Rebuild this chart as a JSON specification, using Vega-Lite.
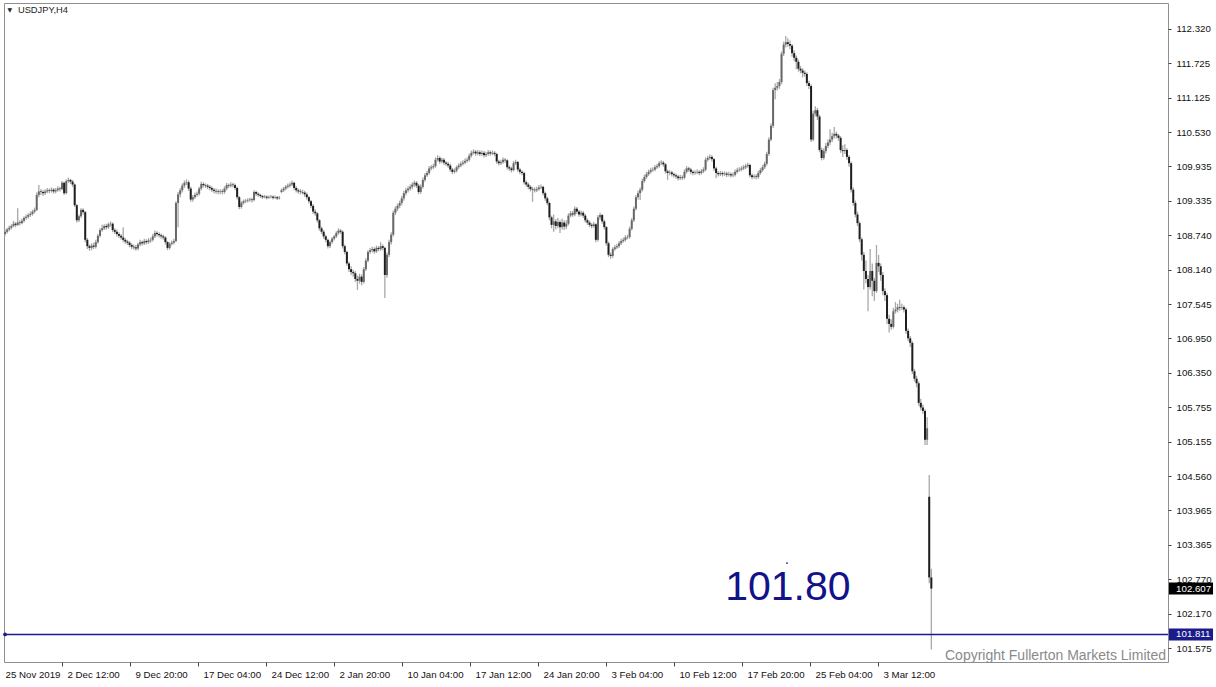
{
"$schema":"https://vega.github.io/schema/vega-lite/v6.json",
"width":1164,"height":659,
"autosize":{"type":"none"},
"padding":{"left":4,"top":3,"right":48,"bottom":25},
"background":"white",
"config":{"view":{"stroke":"#8f8f8f","strokeWidth":1},"font":"Liberation Sans"},
"datasets":{"one":[{}],"bars":[
{"i":0,"o":108.76,"h":108.84,"l":108.73,"c":108.80},
{"i":1,"o":108.80,"h":108.87,"l":108.77,"c":108.84},
{"i":2,"o":108.84,"h":108.91,"l":108.81,"c":108.87},
{"i":3,"o":108.87,"h":108.93,"l":108.84,"c":108.90},
{"i":4,"o":108.90,"h":108.99,"l":108.88,"c":108.94},
{"i":5,"o":108.94,"h":108.97,"l":108.88,"c":108.92},
{"i":6,"o":108.92,"h":109.21,"l":108.90,"c":108.96},
{"i":7,"o":108.96,"h":109.00,"l":108.91,"c":108.95},
{"i":8,"o":108.95,"h":109.03,"l":108.93,"c":108.99},
{"i":9,"o":108.99,"h":109.07,"l":108.96,"c":109.04},
{"i":10,"o":109.04,"h":109.10,"l":109.01,"c":109.06},
{"i":11,"o":109.06,"h":109.12,"l":109.03,"c":109.09},
{"i":12,"o":109.09,"h":109.15,"l":109.06,"c":109.11},
{"i":13,"o":109.11,"h":109.18,"l":109.08,"c":109.15},
{"i":14,"o":109.15,"h":109.22,"l":109.12,"c":109.18},
{"i":15,"o":109.18,"h":109.48,"l":109.16,"c":109.44},
{"i":16,"o":109.44,"h":109.61,"l":109.40,"c":109.50},
{"i":17,"o":109.50,"h":109.54,"l":109.44,"c":109.49},
{"i":18,"o":109.49,"h":109.53,"l":109.42,"c":109.47},
{"i":19,"o":109.47,"h":109.54,"l":109.44,"c":109.50},
{"i":20,"o":109.50,"h":109.56,"l":109.47,"c":109.52},
{"i":21,"o":109.52,"h":109.55,"l":109.47,"c":109.51},
{"i":22,"o":109.51,"h":109.57,"l":109.48,"c":109.53},
{"i":23,"o":109.53,"h":109.56,"l":109.46,"c":109.50},
{"i":24,"o":109.50,"h":109.56,"l":109.47,"c":109.52},
{"i":25,"o":109.52,"h":109.59,"l":109.50,"c":109.55},
{"i":26,"o":109.55,"h":109.58,"l":109.50,"c":109.54},
{"i":27,"o":109.54,"h":109.68,"l":109.52,"c":109.65},
{"i":28,"o":109.65,"h":109.67,"l":109.44,"c":109.47},
{"i":29,"o":109.47,"h":109.71,"l":109.45,"c":109.68},
{"i":30,"o":109.68,"h":109.74,"l":109.65,"c":109.70},
{"i":31,"o":109.70,"h":109.72,"l":109.63,"c":109.67},
{"i":32,"o":109.67,"h":109.70,"l":109.58,"c":109.62},
{"i":33,"o":109.62,"h":109.64,"l":109.23,"c":109.26},
{"i":34,"o":109.26,"h":109.28,"l":108.96,"c":109.00},
{"i":35,"o":109.00,"h":109.10,"l":108.97,"c":109.07},
{"i":36,"o":109.07,"h":109.21,"l":109.04,"c":109.18},
{"i":37,"o":109.18,"h":109.21,"l":109.10,"c":109.14},
{"i":38,"o":109.14,"h":109.16,"l":108.62,"c":108.66},
{"i":39,"o":108.66,"h":108.69,"l":108.50,"c":108.55},
{"i":40,"o":108.55,"h":108.58,"l":108.47,"c":108.52},
{"i":41,"o":108.52,"h":108.60,"l":108.48,"c":108.56},
{"i":42,"o":108.56,"h":108.61,"l":108.50,"c":108.54},
{"i":43,"o":108.54,"h":108.66,"l":108.51,"c":108.62},
{"i":44,"o":108.62,"h":108.76,"l":108.59,"c":108.73},
{"i":45,"o":108.73,"h":108.86,"l":108.70,"c":108.83},
{"i":46,"o":108.83,"h":108.92,"l":108.80,"c":108.86},
{"i":47,"o":108.86,"h":108.93,"l":108.83,"c":108.90},
{"i":48,"o":108.90,"h":108.94,"l":108.84,"c":108.88},
{"i":49,"o":108.88,"h":108.96,"l":108.85,"c":108.93},
{"i":50,"o":108.93,"h":108.98,"l":108.89,"c":108.94},
{"i":51,"o":108.94,"h":108.96,"l":108.79,"c":108.83},
{"i":52,"o":108.83,"h":108.86,"l":108.76,"c":108.80},
{"i":53,"o":108.80,"h":108.84,"l":108.72,"c":108.76},
{"i":54,"o":108.76,"h":108.79,"l":108.69,"c":108.73},
{"i":55,"o":108.73,"h":108.76,"l":108.66,"c":108.70},
{"i":56,"o":108.70,"h":108.88,"l":108.62,"c":108.66},
{"i":57,"o":108.66,"h":108.69,"l":108.59,"c":108.63},
{"i":58,"o":108.63,"h":108.66,"l":108.57,"c":108.61},
{"i":59,"o":108.61,"h":108.64,"l":108.53,"c":108.57},
{"i":60,"o":108.57,"h":108.60,"l":108.50,"c":108.54},
{"i":61,"o":108.54,"h":108.58,"l":108.49,"c":108.53},
{"i":62,"o":108.53,"h":108.57,"l":108.47,"c":108.51},
{"i":63,"o":108.51,"h":108.61,"l":108.48,"c":108.58},
{"i":64,"o":108.58,"h":108.66,"l":108.55,"c":108.62},
{"i":65,"o":108.62,"h":108.65,"l":108.56,"c":108.60},
{"i":66,"o":108.60,"h":108.68,"l":108.57,"c":108.64},
{"i":67,"o":108.64,"h":108.67,"l":108.58,"c":108.62},
{"i":68,"o":108.62,"h":108.69,"l":108.59,"c":108.65},
{"i":69,"o":108.65,"h":108.70,"l":108.61,"c":108.66},
{"i":70,"o":108.66,"h":108.76,"l":108.63,"c":108.72},
{"i":71,"o":108.72,"h":108.82,"l":108.69,"c":108.78},
{"i":72,"o":108.78,"h":108.81,"l":108.72,"c":108.76},
{"i":73,"o":108.76,"h":108.79,"l":108.70,"c":108.74},
{"i":74,"o":108.74,"h":108.77,"l":108.68,"c":108.72},
{"i":75,"o":108.72,"h":108.75,"l":108.66,"c":108.70},
{"i":76,"o":108.70,"h":108.72,"l":108.58,"c":108.62},
{"i":77,"o":108.62,"h":108.64,"l":108.48,"c":108.52},
{"i":78,"o":108.52,"h":108.62,"l":108.49,"c":108.59},
{"i":79,"o":108.59,"h":108.65,"l":108.56,"c":108.61},
{"i":80,"o":108.61,"h":108.68,"l":108.58,"c":108.64},
{"i":81,"o":108.64,"h":109.33,"l":108.62,"c":109.30},
{"i":82,"o":109.30,"h":109.49,"l":108.88,"c":109.45},
{"i":83,"o":109.45,"h":109.56,"l":109.40,"c":109.52},
{"i":84,"o":109.52,"h":109.64,"l":109.48,"c":109.60},
{"i":85,"o":109.60,"h":109.69,"l":109.56,"c":109.65},
{"i":86,"o":109.65,"h":109.71,"l":109.61,"c":109.66},
{"i":87,"o":109.66,"h":109.69,"l":109.51,"c":109.55},
{"i":88,"o":109.55,"h":109.58,"l":109.32,"c":109.36},
{"i":89,"o":109.36,"h":109.44,"l":109.32,"c":109.40},
{"i":90,"o":109.40,"h":109.48,"l":109.37,"c":109.44},
{"i":91,"o":109.44,"h":109.50,"l":109.41,"c":109.46},
{"i":92,"o":109.46,"h":109.58,"l":109.43,"c":109.55},
{"i":93,"o":109.55,"h":109.67,"l":109.52,"c":109.63},
{"i":94,"o":109.63,"h":109.66,"l":109.57,"c":109.61},
{"i":95,"o":109.61,"h":109.64,"l":109.56,"c":109.60},
{"i":96,"o":109.60,"h":109.63,"l":109.54,"c":109.58},
{"i":97,"o":109.58,"h":109.61,"l":109.52,"c":109.56},
{"i":98,"o":109.56,"h":109.59,"l":109.49,"c":109.53},
{"i":99,"o":109.53,"h":109.56,"l":109.47,"c":109.51},
{"i":100,"o":109.51,"h":109.55,"l":109.46,"c":109.50},
{"i":101,"o":109.50,"h":109.54,"l":109.45,"c":109.49},
{"i":102,"o":109.49,"h":109.54,"l":109.45,"c":109.50},
{"i":103,"o":109.50,"h":109.54,"l":109.45,"c":109.49},
{"i":104,"o":109.49,"h":109.59,"l":109.46,"c":109.55},
{"i":105,"o":109.55,"h":109.65,"l":109.52,"c":109.61},
{"i":106,"o":109.61,"h":109.64,"l":109.56,"c":109.60},
{"i":107,"o":109.60,"h":109.66,"l":109.57,"c":109.62},
{"i":108,"o":109.62,"h":109.65,"l":109.57,"c":109.61},
{"i":109,"o":109.61,"h":109.64,"l":109.52,"c":109.56},
{"i":110,"o":109.56,"h":109.58,"l":109.36,"c":109.40},
{"i":111,"o":109.40,"h":109.42,"l":109.19,"c":109.23},
{"i":112,"o":109.23,"h":109.33,"l":109.20,"c":109.30},
{"i":113,"o":109.30,"h":109.36,"l":109.27,"c":109.33},
{"i":114,"o":109.33,"h":109.37,"l":109.30,"c":109.34},
{"i":115,"o":109.34,"h":109.38,"l":109.31,"c":109.35},
{"i":116,"o":109.35,"h":109.39,"l":109.32,"c":109.36},
{"i":117,"o":109.36,"h":109.39,"l":109.31,"c":109.35},
{"i":118,"o":109.35,"h":109.52,"l":109.33,"c":109.49},
{"i":119,"o":109.49,"h":109.51,"l":109.42,"c":109.46},
{"i":120,"o":109.46,"h":109.48,"l":109.41,"c":109.44},
{"i":121,"o":109.44,"h":109.46,"l":109.39,"c":109.42},
{"i":122,"o":109.42,"h":109.44,"l":109.37,"c":109.40},
{"i":123,"o":109.40,"h":109.44,"l":109.38,"c":109.41},
{"i":124,"o":109.41,"h":109.43,"l":109.36,"c":109.39},
{"i":125,"o":109.39,"h":109.43,"l":109.37,"c":109.40},
{"i":126,"o":109.40,"h":109.44,"l":109.38,"c":109.41},
{"i":127,"o":109.41,"h":109.43,"l":109.36,"c":109.39},
{"i":128,"o":109.39,"h":109.43,"l":109.37,"c":109.40},
{"i":129,"o":109.40,"h":109.42,"l":109.35,"c":109.38},
{"i":130,"o":109.38,"h":109.42,"l":109.36,"c":109.39},
{"i":131,"o":109.49,"h":109.55,"l":109.47,"c":109.52},
{"i":132,"o":109.52,"h":109.58,"l":109.49,"c":109.55},
{"i":133,"o":109.55,"h":109.61,"l":109.52,"c":109.58},
{"i":134,"o":109.58,"h":109.64,"l":109.55,"c":109.60},
{"i":135,"o":109.60,"h":109.66,"l":109.57,"c":109.62},
{"i":136,"o":109.62,"h":109.69,"l":109.59,"c":109.65},
{"i":137,"o":109.65,"h":109.67,"l":109.52,"c":109.56},
{"i":138,"o":109.56,"h":109.59,"l":109.48,"c":109.52},
{"i":139,"o":109.52,"h":109.55,"l":109.46,"c":109.50},
{"i":140,"o":109.50,"h":109.54,"l":109.45,"c":109.49},
{"i":141,"o":109.49,"h":109.53,"l":109.45,"c":109.48},
{"i":142,"o":109.48,"h":109.51,"l":109.41,"c":109.45},
{"i":143,"o":109.45,"h":109.48,"l":109.36,"c":109.40},
{"i":144,"o":109.40,"h":109.42,"l":109.29,"c":109.33},
{"i":145,"o":109.33,"h":109.35,"l":109.21,"c":109.25},
{"i":146,"o":109.25,"h":109.28,"l":109.11,"c":109.15},
{"i":147,"o":109.15,"h":109.19,"l":109.08,"c":109.12},
{"i":148,"o":109.12,"h":109.14,"l":108.96,"c":109.00},
{"i":149,"o":109.00,"h":109.02,"l":108.82,"c":108.86},
{"i":150,"o":108.86,"h":108.89,"l":108.76,"c":108.80},
{"i":151,"o":108.80,"h":108.83,"l":108.68,"c":108.72},
{"i":152,"o":108.72,"h":108.75,"l":108.62,"c":108.66},
{"i":153,"o":108.66,"h":108.68,"l":108.51,"c":108.55},
{"i":154,"o":108.55,"h":108.65,"l":108.52,"c":108.62},
{"i":155,"o":108.62,"h":108.71,"l":108.59,"c":108.68},
{"i":156,"o":108.68,"h":108.75,"l":108.65,"c":108.72},
{"i":157,"o":108.72,"h":108.81,"l":108.69,"c":108.78},
{"i":158,"o":108.78,"h":108.86,"l":108.75,"c":108.82},
{"i":159,"o":108.82,"h":108.85,"l":108.76,"c":108.80},
{"i":160,"o":108.80,"h":108.82,"l":108.51,"c":108.55},
{"i":161,"o":108.55,"h":108.58,"l":108.41,"c":108.45},
{"i":162,"o":108.45,"h":108.47,"l":108.21,"c":108.25},
{"i":163,"o":108.25,"h":108.28,"l":108.10,"c":108.15},
{"i":164,"o":108.15,"h":108.20,"l":108.05,"c":108.10},
{"i":165,"o":108.10,"h":108.14,"l":108.02,"c":108.08},
{"i":166,"o":108.08,"h":108.12,"l":107.93,"c":107.98},
{"i":167,"o":107.98,"h":108.04,"l":107.79,"c":107.95},
{"i":168,"o":107.95,"h":108.07,"l":107.90,"c":108.02},
{"i":169,"o":108.02,"h":108.06,"l":107.87,"c":107.93},
{"i":170,"o":107.93,"h":108.19,"l":107.90,"c":108.15},
{"i":171,"o":108.15,"h":108.34,"l":108.12,"c":108.30},
{"i":172,"o":108.30,"h":108.48,"l":108.27,"c":108.45},
{"i":173,"o":108.45,"h":108.52,"l":108.42,"c":108.48},
{"i":174,"o":108.48,"h":108.54,"l":108.44,"c":108.50},
{"i":175,"o":108.50,"h":108.53,"l":108.42,"c":108.46},
{"i":176,"o":108.46,"h":108.56,"l":108.43,"c":108.52},
{"i":177,"o":108.52,"h":108.55,"l":108.46,"c":108.50},
{"i":178,"o":108.50,"h":108.62,"l":108.47,"c":108.55},
{"i":179,"o":108.55,"h":108.58,"l":108.48,"c":108.52},
{"i":180,"o":108.52,"h":108.54,"l":107.65,"c":108.05},
{"i":181,"o":108.05,"h":108.44,"l":108.00,"c":108.40},
{"i":182,"o":108.40,"h":108.66,"l":108.36,"c":108.62},
{"i":183,"o":108.62,"h":108.79,"l":108.58,"c":108.75},
{"i":184,"o":108.75,"h":109.17,"l":108.72,"c":109.13},
{"i":185,"o":109.13,"h":109.24,"l":109.09,"c":109.20},
{"i":186,"o":109.20,"h":109.29,"l":109.16,"c":109.25},
{"i":187,"o":109.25,"h":109.34,"l":109.21,"c":109.30},
{"i":188,"o":109.30,"h":109.42,"l":109.26,"c":109.38},
{"i":189,"o":109.38,"h":109.51,"l":109.34,"c":109.47},
{"i":190,"o":109.47,"h":109.56,"l":109.43,"c":109.52},
{"i":191,"o":109.52,"h":109.59,"l":109.48,"c":109.55},
{"i":192,"o":109.55,"h":109.62,"l":109.51,"c":109.58},
{"i":193,"o":109.58,"h":109.66,"l":109.54,"c":109.62},
{"i":194,"o":109.62,"h":109.69,"l":109.58,"c":109.65},
{"i":195,"o":109.65,"h":109.68,"l":109.56,"c":109.60},
{"i":196,"o":109.60,"h":109.63,"l":109.45,"c":109.49},
{"i":197,"o":109.49,"h":109.62,"l":109.46,"c":109.58},
{"i":198,"o":109.58,"h":109.74,"l":109.55,"c":109.70},
{"i":199,"o":109.70,"h":109.82,"l":109.67,"c":109.78},
{"i":200,"o":109.78,"h":109.86,"l":109.75,"c":109.82},
{"i":201,"o":109.82,"h":109.94,"l":109.79,"c":109.90},
{"i":202,"o":109.90,"h":109.96,"l":109.87,"c":109.92},
{"i":203,"o":109.92,"h":109.98,"l":109.89,"c":109.94},
{"i":204,"o":109.94,"h":110.09,"l":109.91,"c":110.05},
{"i":205,"o":110.05,"h":110.13,"l":110.02,"c":110.08},
{"i":206,"o":110.08,"h":110.11,"l":109.98,"c":110.02},
{"i":207,"o":110.02,"h":110.09,"l":109.99,"c":110.05},
{"i":208,"o":110.05,"h":110.08,"l":109.96,"c":110.00},
{"i":209,"o":110.00,"h":110.03,"l":109.94,"c":109.98},
{"i":210,"o":109.98,"h":110.01,"l":109.91,"c":109.95},
{"i":211,"o":109.95,"h":109.98,"l":109.84,"c":109.88},
{"i":212,"o":109.88,"h":109.91,"l":109.80,"c":109.84},
{"i":213,"o":109.84,"h":109.90,"l":109.81,"c":109.86},
{"i":214,"o":109.86,"h":109.95,"l":109.83,"c":109.92},
{"i":215,"o":109.92,"h":109.99,"l":109.89,"c":109.95},
{"i":216,"o":109.95,"h":110.02,"l":109.92,"c":109.98},
{"i":217,"o":109.98,"h":110.04,"l":109.95,"c":110.00},
{"i":218,"o":110.00,"h":110.07,"l":109.97,"c":110.03},
{"i":219,"o":110.03,"h":110.09,"l":110.00,"c":110.05},
{"i":220,"o":110.05,"h":110.16,"l":110.02,"c":110.12},
{"i":221,"o":110.12,"h":110.21,"l":110.09,"c":110.17},
{"i":222,"o":110.17,"h":110.23,"l":110.14,"c":110.19},
{"i":223,"o":110.19,"h":110.22,"l":110.12,"c":110.16},
{"i":224,"o":110.16,"h":110.22,"l":110.13,"c":110.18},
{"i":225,"o":110.18,"h":110.21,"l":110.11,"c":110.15},
{"i":226,"o":110.15,"h":110.21,"l":110.12,"c":110.17},
{"i":227,"o":110.17,"h":110.20,"l":110.09,"c":110.13},
{"i":228,"o":110.13,"h":110.19,"l":110.10,"c":110.15},
{"i":229,"o":110.15,"h":110.22,"l":110.12,"c":110.18},
{"i":230,"o":110.18,"h":110.21,"l":110.12,"c":110.16},
{"i":231,"o":110.16,"h":110.21,"l":110.13,"c":110.17},
{"i":232,"o":110.17,"h":110.20,"l":110.11,"c":110.15},
{"i":233,"o":110.15,"h":110.17,"l":109.98,"c":110.02},
{"i":234,"o":110.02,"h":110.05,"l":109.95,"c":109.99},
{"i":235,"o":109.99,"h":110.05,"l":109.96,"c":110.01},
{"i":236,"o":110.01,"h":110.09,"l":109.98,"c":110.05},
{"i":237,"o":110.05,"h":110.08,"l":110.00,"c":110.04},
{"i":238,"o":110.04,"h":110.06,"l":109.88,"c":109.92},
{"i":239,"o":109.92,"h":109.95,"l":109.86,"c":109.90},
{"i":240,"o":109.90,"h":109.93,"l":109.83,"c":109.87},
{"i":241,"o":109.87,"h":110.03,"l":109.85,"c":109.99},
{"i":242,"o":109.99,"h":110.05,"l":109.96,"c":110.01},
{"i":243,"o":110.01,"h":110.03,"l":109.84,"c":109.88},
{"i":244,"o":109.88,"h":109.91,"l":109.80,"c":109.84},
{"i":245,"o":109.84,"h":109.87,"l":109.78,"c":109.82},
{"i":246,"o":109.82,"h":109.84,"l":109.62,"c":109.66},
{"i":247,"o":109.66,"h":109.69,"l":109.58,"c":109.62},
{"i":248,"o":109.62,"h":109.65,"l":109.54,"c":109.58},
{"i":249,"o":109.58,"h":109.61,"l":109.50,"c":109.54},
{"i":250,"o":109.54,"h":109.58,"l":109.32,"c":109.53},
{"i":251,"o":109.53,"h":109.57,"l":109.48,"c":109.52},
{"i":252,"o":109.52,"h":109.58,"l":109.49,"c":109.54},
{"i":253,"o":109.54,"h":109.61,"l":109.51,"c":109.57},
{"i":254,"o":109.57,"h":109.62,"l":109.54,"c":109.58},
{"i":255,"o":109.58,"h":109.60,"l":109.43,"c":109.47},
{"i":256,"o":109.47,"h":109.50,"l":109.34,"c":109.38},
{"i":257,"o":109.38,"h":109.41,"l":109.26,"c":109.30},
{"i":258,"o":109.30,"h":109.32,"l":109.00,"c":109.05},
{"i":259,"o":109.05,"h":109.08,"l":108.86,"c":108.92},
{"i":260,"o":108.92,"h":109.10,"l":108.80,"c":108.98},
{"i":261,"o":108.98,"h":109.02,"l":108.84,"c":108.90},
{"i":262,"o":108.90,"h":109.04,"l":108.86,"c":108.97},
{"i":263,"o":108.97,"h":109.00,"l":108.78,"c":108.88},
{"i":264,"o":108.88,"h":109.03,"l":108.84,"c":108.96},
{"i":265,"o":108.96,"h":109.00,"l":108.83,"c":108.89},
{"i":266,"o":108.89,"h":109.00,"l":108.85,"c":108.94},
{"i":267,"o":108.94,"h":109.12,"l":108.91,"c":109.08},
{"i":268,"o":109.08,"h":109.16,"l":109.05,"c":109.12},
{"i":269,"o":109.12,"h":109.16,"l":109.06,"c":109.10},
{"i":270,"o":109.10,"h":109.24,"l":109.07,"c":109.20},
{"i":271,"o":109.20,"h":109.23,"l":109.11,"c":109.15},
{"i":272,"o":109.15,"h":109.18,"l":109.06,"c":109.10},
{"i":273,"o":109.10,"h":109.17,"l":109.07,"c":109.13},
{"i":274,"o":109.13,"h":109.16,"l":109.04,"c":109.08},
{"i":275,"o":109.08,"h":109.11,"l":108.96,"c":109.00},
{"i":276,"o":109.00,"h":109.03,"l":108.92,"c":108.96},
{"i":277,"o":108.96,"h":108.99,"l":108.88,"c":108.92},
{"i":278,"o":108.92,"h":108.95,"l":108.86,"c":108.90},
{"i":279,"o":108.90,"h":108.97,"l":108.87,"c":108.93},
{"i":280,"o":108.93,"h":108.95,"l":108.62,"c":108.66},
{"i":281,"o":108.66,"h":109.09,"l":108.63,"c":109.05},
{"i":282,"o":109.05,"h":109.13,"l":109.01,"c":109.09},
{"i":283,"o":109.09,"h":109.11,"l":108.94,"c":108.98},
{"i":284,"o":108.98,"h":109.01,"l":108.84,"c":108.88},
{"i":285,"o":108.88,"h":108.90,"l":108.56,"c":108.60},
{"i":286,"o":108.60,"h":108.63,"l":108.36,"c":108.40},
{"i":287,"o":108.40,"h":108.44,"l":108.33,"c":108.38},
{"i":288,"o":108.38,"h":108.53,"l":108.35,"c":108.50},
{"i":289,"o":108.50,"h":108.57,"l":108.47,"c":108.53},
{"i":290,"o":108.53,"h":108.59,"l":108.50,"c":108.55},
{"i":291,"o":108.55,"h":108.64,"l":108.52,"c":108.60},
{"i":292,"o":108.60,"h":108.68,"l":108.57,"c":108.64},
{"i":293,"o":108.64,"h":108.70,"l":108.61,"c":108.66},
{"i":294,"o":108.66,"h":108.74,"l":108.63,"c":108.70},
{"i":295,"o":108.70,"h":108.75,"l":108.67,"c":108.71},
{"i":296,"o":108.71,"h":108.89,"l":108.68,"c":108.85},
{"i":297,"o":108.85,"h":109.04,"l":108.82,"c":109.00},
{"i":298,"o":109.00,"h":109.24,"l":108.97,"c":109.20},
{"i":299,"o":109.20,"h":109.44,"l":109.17,"c":109.40},
{"i":300,"o":109.40,"h":109.51,"l":109.36,"c":109.47},
{"i":301,"o":109.47,"h":109.57,"l":109.35,"c":109.53},
{"i":302,"o":109.53,"h":109.72,"l":109.50,"c":109.68},
{"i":303,"o":109.68,"h":109.79,"l":109.65,"c":109.75},
{"i":304,"o":109.75,"h":109.84,"l":109.72,"c":109.80},
{"i":305,"o":109.80,"h":109.88,"l":109.77,"c":109.84},
{"i":306,"o":109.84,"h":109.91,"l":109.81,"c":109.87},
{"i":307,"o":109.87,"h":109.92,"l":109.84,"c":109.88},
{"i":308,"o":109.88,"h":109.96,"l":109.85,"c":109.92},
{"i":309,"o":109.92,"h":109.98,"l":109.89,"c":109.94},
{"i":310,"o":109.94,"h":110.03,"l":109.91,"c":109.99},
{"i":311,"o":109.99,"h":110.04,"l":109.96,"c":110.00},
{"i":312,"o":110.00,"h":110.03,"l":109.93,"c":109.97},
{"i":313,"o":109.97,"h":109.99,"l":109.81,"c":109.85},
{"i":314,"o":109.85,"h":109.88,"l":109.70,"c":109.82},
{"i":315,"o":109.82,"h":109.87,"l":109.78,"c":109.83},
{"i":316,"o":109.83,"h":109.86,"l":109.76,"c":109.80},
{"i":317,"o":109.80,"h":109.83,"l":109.74,"c":109.78},
{"i":318,"o":109.78,"h":109.81,"l":109.72,"c":109.76},
{"i":319,"o":109.76,"h":109.79,"l":109.69,"c":109.73},
{"i":320,"o":109.73,"h":109.79,"l":109.70,"c":109.75},
{"i":321,"o":109.75,"h":109.78,"l":109.70,"c":109.74},
{"i":322,"o":109.74,"h":109.88,"l":109.71,"c":109.84},
{"i":323,"o":109.84,"h":109.94,"l":109.81,"c":109.90},
{"i":324,"o":109.90,"h":109.93,"l":109.84,"c":109.88},
{"i":325,"o":109.88,"h":109.91,"l":109.80,"c":109.84},
{"i":326,"o":109.84,"h":109.87,"l":109.78,"c":109.82},
{"i":327,"o":109.82,"h":109.87,"l":109.79,"c":109.83},
{"i":328,"o":109.83,"h":109.88,"l":109.80,"c":109.84},
{"i":329,"o":109.84,"h":109.87,"l":109.78,"c":109.82},
{"i":330,"o":109.82,"h":109.89,"l":109.79,"c":109.85},
{"i":331,"o":109.85,"h":109.92,"l":109.82,"c":109.88},
{"i":332,"o":109.88,"h":110.09,"l":109.85,"c":110.05},
{"i":333,"o":110.05,"h":110.12,"l":110.02,"c":110.08},
{"i":334,"o":110.08,"h":110.14,"l":110.05,"c":110.10},
{"i":335,"o":110.10,"h":110.13,"l":110.02,"c":110.06},
{"i":336,"o":110.06,"h":110.08,"l":109.86,"c":109.90},
{"i":337,"o":109.90,"h":109.93,"l":109.73,"c":109.82},
{"i":338,"o":109.82,"h":109.85,"l":109.76,"c":109.80},
{"i":339,"o":109.80,"h":109.86,"l":109.77,"c":109.82},
{"i":340,"o":109.82,"h":109.85,"l":109.76,"c":109.80},
{"i":341,"o":109.80,"h":109.85,"l":109.77,"c":109.81},
{"i":342,"o":109.81,"h":109.84,"l":109.75,"c":109.79},
{"i":343,"o":109.79,"h":109.84,"l":109.76,"c":109.80},
{"i":344,"o":109.80,"h":109.83,"l":109.74,"c":109.78},
{"i":345,"o":109.78,"h":109.83,"l":109.75,"c":109.79},
{"i":346,"o":109.79,"h":109.88,"l":109.76,"c":109.84},
{"i":347,"o":109.84,"h":109.91,"l":109.81,"c":109.87},
{"i":348,"o":109.87,"h":109.92,"l":109.84,"c":109.88},
{"i":349,"o":109.88,"h":109.94,"l":109.85,"c":109.90},
{"i":350,"o":109.90,"h":109.96,"l":109.87,"c":109.92},
{"i":351,"o":109.92,"h":109.98,"l":109.89,"c":109.94},
{"i":352,"o":109.94,"h":110.00,"l":109.91,"c":109.96},
{"i":353,"o":109.96,"h":109.98,"l":109.74,"c":109.78},
{"i":354,"o":109.78,"h":109.81,"l":109.71,"c":109.75},
{"i":355,"o":109.75,"h":109.80,"l":109.72,"c":109.76},
{"i":356,"o":109.76,"h":109.80,"l":109.71,"c":109.75},
{"i":357,"o":109.75,"h":109.86,"l":109.72,"c":109.82},
{"i":358,"o":109.82,"h":109.91,"l":109.79,"c":109.87},
{"i":359,"o":109.87,"h":109.96,"l":109.84,"c":109.92},
{"i":360,"o":109.92,"h":110.02,"l":109.89,"c":109.98},
{"i":361,"o":109.98,"h":110.19,"l":109.95,"c":110.15},
{"i":362,"o":110.15,"h":110.44,"l":110.12,"c":110.40},
{"i":363,"o":110.40,"h":110.68,"l":110.37,"c":110.64},
{"i":364,"o":110.64,"h":111.30,"l":110.60,"c":111.26},
{"i":365,"o":111.26,"h":111.38,"l":111.10,"c":111.30},
{"i":366,"o":111.30,"h":111.40,"l":111.25,"c":111.33},
{"i":367,"o":111.33,"h":111.45,"l":111.28,"c":111.40},
{"i":368,"o":111.40,"h":111.93,"l":111.36,"c":111.89},
{"i":369,"o":111.89,"h":112.10,"l":111.85,"c":112.05},
{"i":370,"o":112.05,"h":112.20,"l":112.00,"c":112.09},
{"i":371,"o":112.09,"h":112.16,"l":112.01,"c":112.06},
{"i":372,"o":112.06,"h":112.12,"l":111.97,"c":112.03},
{"i":373,"o":112.03,"h":112.06,"l":111.84,"c":111.90},
{"i":374,"o":111.90,"h":111.95,"l":111.76,"c":111.82},
{"i":375,"o":111.82,"h":111.86,"l":111.62,"c":111.75},
{"i":376,"o":111.75,"h":111.79,"l":111.58,"c":111.63},
{"i":377,"o":111.63,"h":111.68,"l":111.55,"c":111.60},
{"i":378,"o":111.60,"h":111.64,"l":111.48,"c":111.56},
{"i":379,"o":111.56,"h":111.60,"l":111.49,"c":111.54},
{"i":380,"o":111.54,"h":111.57,"l":111.33,"c":111.38},
{"i":381,"o":111.38,"h":111.42,"l":111.28,"c":111.33},
{"i":382,"o":111.33,"h":111.36,"l":110.36,"c":110.40},
{"i":383,"o":110.40,"h":110.90,"l":110.37,"c":110.85},
{"i":384,"o":110.85,"h":110.98,"l":110.80,"c":110.91},
{"i":385,"o":110.91,"h":110.95,"l":110.74,"c":110.80},
{"i":386,"o":110.80,"h":110.83,"l":110.18,"c":110.22},
{"i":387,"o":110.22,"h":110.26,"l":110.04,"c":110.08},
{"i":388,"o":110.08,"h":110.25,"l":110.05,"c":110.20},
{"i":389,"o":110.20,"h":110.34,"l":110.16,"c":110.29},
{"i":390,"o":110.29,"h":110.40,"l":110.25,"c":110.35},
{"i":391,"o":110.35,"h":110.58,"l":110.30,"c":110.40},
{"i":392,"o":110.40,"h":110.52,"l":110.36,"c":110.46},
{"i":393,"o":110.46,"h":110.62,"l":110.42,"c":110.50},
{"i":394,"o":110.50,"h":110.54,"l":110.42,"c":110.47},
{"i":395,"o":110.47,"h":110.50,"l":110.38,"c":110.43},
{"i":396,"o":110.43,"h":110.46,"l":110.17,"c":110.22},
{"i":397,"o":110.22,"h":110.30,"l":110.10,"c":110.20},
{"i":398,"o":110.20,"h":110.32,"l":110.15,"c":110.22},
{"i":399,"o":110.22,"h":110.25,"l":110.05,"c":110.10},
{"i":400,"o":110.10,"h":110.13,"l":109.93,"c":109.99},
{"i":401,"o":109.99,"h":110.02,"l":109.48,"c":109.53},
{"i":402,"o":109.53,"h":109.57,"l":109.25,"c":109.30},
{"i":403,"o":109.30,"h":109.34,"l":109.05,"c":109.10},
{"i":404,"o":109.10,"h":109.15,"l":108.90,"c":108.95},
{"i":405,"o":108.95,"h":108.98,"l":108.62,"c":108.67},
{"i":406,"o":108.67,"h":108.70,"l":108.30,"c":108.40},
{"i":407,"o":108.40,"h":108.45,"l":107.80,"c":108.12},
{"i":408,"o":108.12,"h":108.30,"l":107.90,"c":107.98},
{"i":409,"o":107.98,"h":108.05,"l":107.42,"c":107.84},
{"i":410,"o":107.84,"h":108.50,"l":107.80,"c":108.12},
{"i":411,"o":108.12,"h":108.25,"l":107.68,"c":107.95},
{"i":412,"o":107.95,"h":108.00,"l":107.60,"c":107.77},
{"i":413,"o":107.77,"h":108.57,"l":107.74,"c":108.26},
{"i":414,"o":108.26,"h":108.40,"l":108.10,"c":108.20},
{"i":415,"o":108.20,"h":108.25,"l":107.95,"c":108.05},
{"i":416,"o":108.05,"h":108.10,"l":107.70,"c":107.77},
{"i":417,"o":107.77,"h":107.82,"l":107.60,"c":107.70},
{"i":418,"o":107.70,"h":107.74,"l":107.20,"c":107.29},
{"i":419,"o":107.29,"h":107.36,"l":107.05,"c":107.20},
{"i":420,"o":107.20,"h":107.28,"l":107.10,"c":107.15},
{"i":421,"o":107.15,"h":107.48,"l":107.12,"c":107.42},
{"i":422,"o":107.42,"h":107.58,"l":107.38,"c":107.45},
{"i":423,"o":107.45,"h":107.55,"l":107.40,"c":107.49},
{"i":424,"o":107.49,"h":107.62,"l":107.43,"c":107.48},
{"i":425,"o":107.48,"h":107.55,"l":107.44,"c":107.49},
{"i":426,"o":107.49,"h":107.52,"l":107.40,"c":107.45},
{"i":427,"o":107.45,"h":107.48,"l":107.03,"c":107.08},
{"i":428,"o":107.08,"h":107.12,"l":106.90,"c":106.95},
{"i":429,"o":106.95,"h":106.99,"l":106.80,"c":106.87},
{"i":430,"o":106.87,"h":106.90,"l":106.33,"c":106.38},
{"i":431,"o":106.38,"h":106.42,"l":106.20,"c":106.25},
{"i":432,"o":106.25,"h":106.30,"l":106.10,"c":106.17},
{"i":433,"o":106.17,"h":106.20,"l":105.78,"c":105.83},
{"i":434,"o":105.83,"h":105.90,"l":105.70,"c":105.75},
{"i":435,"o":105.75,"h":105.80,"l":105.64,"c":105.69},
{"i":436,"o":105.69,"h":105.72,"l":105.10,"c":105.19},
{"i":437,"o":105.19,"h":105.58,"l":105.10,"c":105.39},
{"i":438,"o":104.20,"h":104.58,"l":102.70,"c":102.80},
{"i":439,"o":102.80,"h":102.95,"l":101.55,"c":102.607}
]},
"layer":[
{"data":{"name":"bars"},
 "mark":{"type":"rule","strokeWidth":1.3,"color":"#a8a8a8"},
 "encoding":{
  "x":{"field":"i","type":"quantitative","scale":{"domain":[-0.5,551.16],"nice":false,"zero":false},
   "axis":{"title":null,"grid":false,"domain":false,
    "values":[0,26.99,59.22,91.44,123.67,155.9,188.13,220.35,252.58,284.81,317.03,349.26,381.49,413.71],
    "tickCount":14,
    "labelExpr":"['25 Nov 2019','2 Dec 12:00','9 Dec 20:00','17 Dec 04:00','24 Dec 12:00','2 Jan 20:00','10 Jan 04:00','17 Jan 12:00','24 Jan 20:00','3 Feb 04:00','10 Feb 12:00','17 Feb 20:00','25 Feb 04:00','3 Mar 12:00'][round((datum.value+5)/32.227)]",
    "labelAlign":"left","labelBaseline":"top",
    "labelOffset":{"condition":{"test":"datum.value < 1","value":0},"value":5},
    "tickOpacity":{"condition":{"test":"datum.value < 1","value":0},"value":1},
    "labelFont":"Liberation Sans","labelFontSize":9.7,"labelColor":"#111111",
    "tickColor":"#444444","tickSize":4,"labelPadding":3,
    "labelOverlap":false,"labelFlush":false,"labelBound":false}},
  "y":{"field":"l","type":"quantitative","scale":{"domain":[101.332,112.771],"nice":false,"zero":false},
   "axis":{"orient":"right","title":null,"grid":false,"domain":false,
    "values":[112.32,111.725,111.125,110.53,109.935,109.335,108.74,108.14,107.545,106.95,106.35,105.755,105.155,104.56,103.965,103.365,102.77,102.17,101.575],
    "tickCount":19,
    "format":".3f","labelFont":"Liberation Sans","labelFontSize":9.7,"labelColor":"#111111",
    "tickColor":"#444444","tickSize":3,"labelPadding":5,"labelBaseline":"middle",
    "labelOverlap":false,"labelFlush":false,"labelBound":false}},
  "y2":{"field":"h"}}},
{"data":{"name":"bars"},
 "mark":{"type":"rule","strokeWidth":2},
 "encoding":{
  "x":{"field":"i","type":"quantitative"},
  "y":{"field":"o","type":"quantitative"},
  "y2":{"field":"c"},
  "color":{"condition":{"test":"datum.c < datum.o","value":"#1e1e1e"},"value":"#686868"}}},
{"data":{"name":"one"},"mark":{"type":"rule","color":"#1b1b8a","strokeWidth":1.5},
 "encoding":{"y":{"datum":101.811}}},
{"data":{"name":"one"},"mark":{"type":"point","filled":true,"color":"#1b1b8a","size":14,"opacity":1},
 "encoding":{"x":{"datum":0},"y":{"datum":101.811}}},
{"data":{"name":"one"},"mark":{"type":"text","text":"101.80","font":"Liberation Sans","fontSize":41,"color":"#12128a","align":"center","baseline":"alphabetic"},
 "encoding":{"x":{"datum":371},"y":{"datum":102.41}}},
{"data":{"name":"one"},"mark":{"type":"point","filled":true,"color":"#12128a","size":3,"opacity":1},
 "encoding":{"x":{"datum":370.6},"y":{"datum":103.05}}},
{"data":{"name":"one"},"mark":{"type":"text","text":"▼","font":"DejaVu Sans","fontSize":6,"color":"#222222","align":"center","baseline":"middle"},
 "encoding":{"x":{"datum":2.3},"y":{"datum":112.65}}},
{"data":{"name":"one"},"mark":{"type":"text","text":"USDJPY,H4","font":"Liberation Sans","fontSize":9.3,"color":"#1a1a1a","align":"left","baseline":"middle"},
 "encoding":{"x":{"datum":6.1},"y":{"datum":112.65}}},
{"data":{"name":"one"},"mark":{"type":"text","text":"Copyright Fullerton Markets Limited","font":"Liberation Sans","fontSize":14,"color":"#8a8a8a","align":"right","baseline":"middle"},
 "encoding":{"x":{"datum":550.2},"y":{"datum":101.436}}},
{"data":{"name":"one"},"mark":{"type":"rect","color":"#000000"},
 "encoding":{"x":{"datum":551.6},"x2":{"datum":572.5},"y":{"datum":102.711},"y2":{"datum":102.503}}},
{"data":{"name":"one"},"mark":{"type":"text","text":"102.607","font":"Liberation Sans","fontSize":9.7,"color":"#ffffff","align":"left","baseline":"middle"},
 "encoding":{"x":{"datum":555.0},"y":{"datum":102.607}}},
{"data":{"name":"one"},"mark":{"type":"rect","color":"#1b1b8a"},
 "encoding":{"x":{"datum":551.6},"x2":{"datum":572.5},"y":{"datum":101.915},"y2":{"datum":101.707}}},
{"data":{"name":"one"},"mark":{"type":"text","text":"101.811","font":"Liberation Sans","fontSize":9.7,"color":"#ffffff","align":"left","baseline":"middle"},
 "encoding":{"x":{"datum":555.0},"y":{"datum":101.811}}}
]
}
